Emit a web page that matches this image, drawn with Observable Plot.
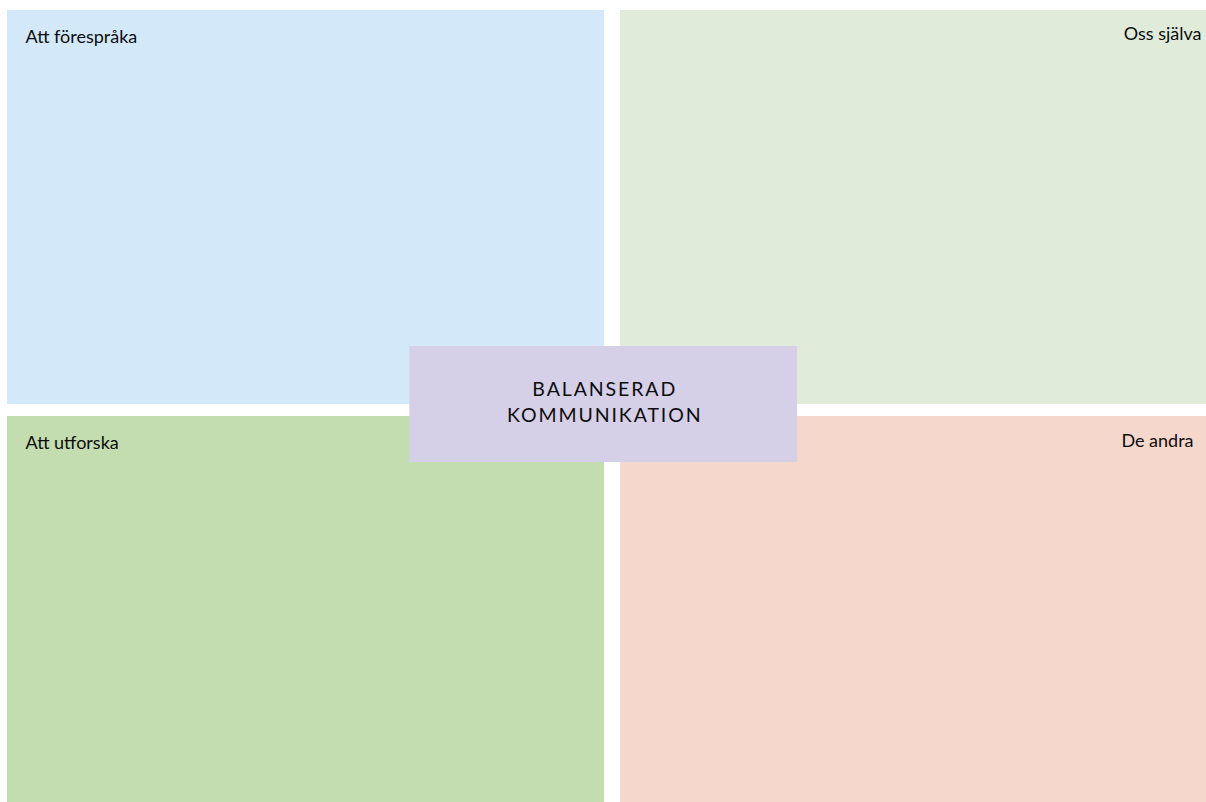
<!DOCTYPE html>
<html>
<head>
<meta charset="utf-8">
<script src="https://cdn.jsdelivr.net/npm/d3@7"></script>
<script src="https://cdn.jsdelivr.net/npm/@observablehq/plot@0.6"></script>
<style>
  html, body { margin: 0; padding: 0; background: #fff; overflow: hidden; }
  #chart svg { display: block; overflow: hidden; }
</style>
</head>
<body>
<div id="chart"></div>
<script>
// Quadrant data (column/row indices in a 2x2 grid)
const labels = ["Att förespråka", "Oss själva", "Att utforska", "De andra"];
const cols = [0, 1, 0, 1];
const rows = [0, 0, 1, 1];
const colors = ["#d3e9f9", "#e0ecd9", "#c3dcb0", "#f6d7cb"];

// Center box
const centerLabel = ["BALANSERAD\nKOMMUNIKATION"];
const centerColor = "#d5d0e7";
const centerSpan = {x1: 0.665, x2: 1.306, y1: 0.84, y2: 1.13};

const quads = labels.map((label, i) => ({label, col: cols[i], row: rows[i], color: colors[i]}));
const center = [{label: centerLabel[0], ...centerSpan}];

const font = "Lato, 'Open Sans', sans-serif";

const rectMark = (i) => {
  const q = quads[i];
  return Plot.rect([q], {
    x1: "col", x2: d => d.col + 1,
    y1: "row", y2: d => d.row + 1,
    fill: "color",
    insetLeft: q.col === 0 ? 0 : 8,
    insetRight: q.col === 0 ? 8 : 0,
    insetTop: q.row === 0 ? 0 : 6,
    insetBottom: q.row === 0 ? 6 : 0
  });
};

const textMark = (i, anchor, dx, dy) => Plot.text([quads[i]], {
  x: d => anchor === "start" ? d.col : d.col + 1,
  y: d => d.row,
  text: "label",
  textAnchor: anchor,
  lineAnchor: "top",
  dx, dy,
  fontSize: 18,
  fill: "#0d0d0d"
});

const plot = Plot.plot({
  width: 1206,
  height: 802,
  margin: 0,
  style: {fontFamily: font, background: "#fff"},
  x: {domain: [0, 2], range: [7, 1217], axis: null},
  y: {domain: [0, 2], range: [10, 810], axis: null},
  marks: [
    rectMark(0), rectMark(1), rectMark(2), rectMark(3),
    Plot.rect(center, {x1: "x1", x2: "x2", y1: "y1", y2: "y2", fill: centerColor}),
    Plot.text(center, {
      x: d => (d.x1 + d.x2) / 2,
      y: d => (d.y1 + d.y2) / 2,
      text: "label",
      fontSize: 19.5,
      lineHeight: 1.33,
      dy: -4,
      dx: 1,
      fill: "#0d0d0d"
    }),
    textMark(0, "start", 18, 20),
    textMark(1, "end", -16, 17),
    textMark(2, "start", 18, 26),
    textMark(3, "end", -24, 24)
  ]
});

d3.select(plot).selectAll("text")
  .filter(function() { return this.textContent.includes("BALANSERAD"); })
  .style("letter-spacing", "1.9px");

document.getElementById("chart").appendChild(plot);
</script>
</body>
</html>
